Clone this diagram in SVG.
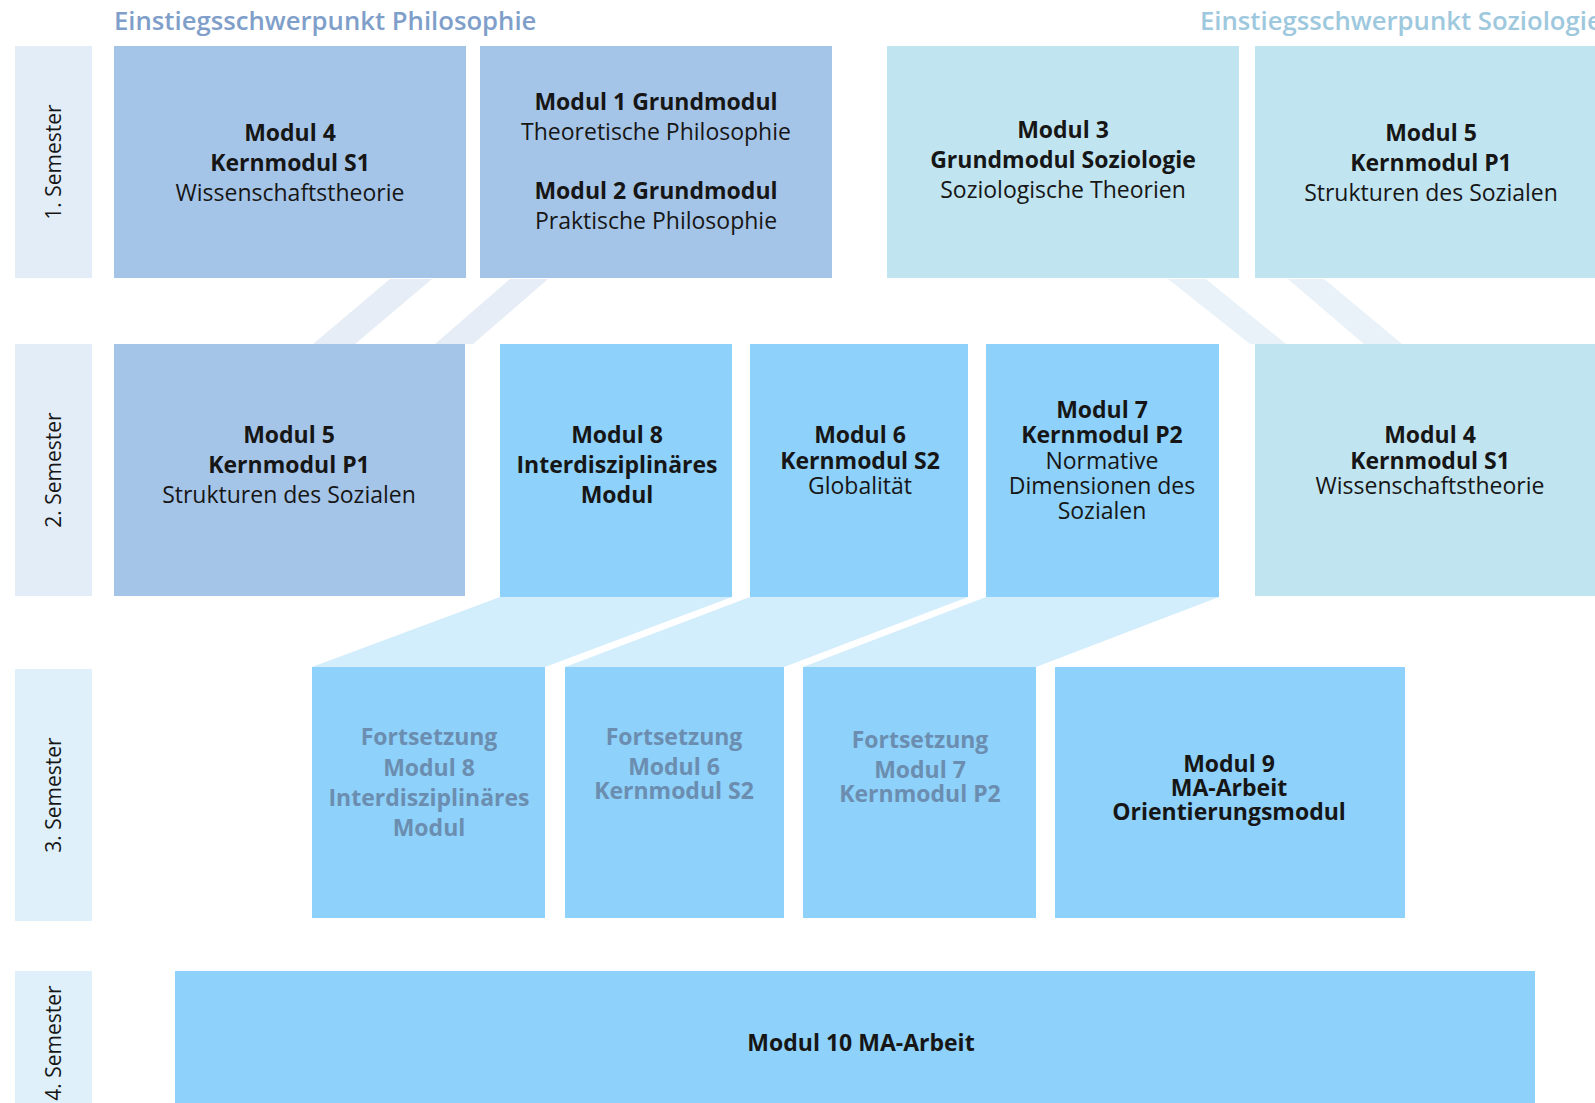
<svg xmlns="http://www.w3.org/2000/svg" width="1595" height="1103" viewBox="0 0 1595 1103">
<style>
text{font-family:"Open Sans","Noto Sans","Liberation Sans",sans-serif;text-anchor:middle;fill:#161616}
.b{font-weight:700;font-size:23px}
.r{font-weight:400;font-size:23px}
.f{font-weight:700;font-size:23px;fill:#6b8db0}
.sem{font-size:21px;font-weight:500;dominant-baseline:central}
.title{font-weight:600;font-size:25.7px;text-anchor:start}
.phil{fill:#a5c5e8}
.soz{fill:#c1e4f1}
.sky{fill:#8ed1fa}
.lab{fill:#e3edf8}
.lab2{fill:#dff0fb}
.band{fill:#e6edf6}
.band2{fill:#e8f2f8}
.par{fill:#d2edfc}
</style>
<rect width="1595" height="1103" fill="#ffffff"/>

<text class="title" x="114" y="30" style="fill:#7f9fca">Einstiegsschwerpunkt Philosophie</text>
<text class="title" x="1200" y="30" style="fill:#9dc8dd">Einstiegsschwerpunkt Soziologie</text>

<g id="connectors">
  <polygon class="band" points="390,279 432,279 355,344 313,344"/>
  <polygon class="band" points="510,279 548,279 473,344 435,344"/>
  <polygon class="band2" points="1168,279 1206,279 1286,344 1250,344"/>
  <polygon class="band2" points="1288,279 1324,279 1402,344 1364,344"/>
  <polygon class="par" points="500,597 732,597 545,667 312,667"/>
  <polygon class="par" points="750,597 968,597 784,667 565,667"/>
  <polygon class="par" points="986,597 1219,597 1036,667 803,667"/>
</g>

<g id="sem1"><rect class="lab" x="15" y="46" width="77" height="232"/><text class="sem" transform="translate(53,162) rotate(-90)">1. Semester</text></g>
<g id="sem2"><rect class="lab" x="15" y="344" width="77" height="252"/><text class="sem" transform="translate(53,470) rotate(-90)">2. Semester</text></g>
<g id="sem3"><rect class="lab2" x="15" y="669" width="77" height="252"/><text class="sem" transform="translate(53,795) rotate(-90)">3. Semester</text></g>
<g id="sem4"><rect class="lab2" x="15" y="971" width="77" height="150"/><text class="sem" transform="translate(53,1043) rotate(-90)">4. Semester</text></g>

<g id="s1-modul4">
  <rect class="phil" x="114" y="46" width="352" height="232"/>
  <text class="b" x="290" y="141">Modul 4</text>
  <text class="b" x="290" y="171">Kernmodul S1</text>
  <text class="r" x="290" y="201">Wissenschaftstheorie</text>
</g>
<g id="s1-modul12">
  <rect class="phil" x="480" y="46" width="352" height="232"/>
  <text class="b" x="656" y="110">Modul 1 Grundmodul</text>
  <text class="r" x="656" y="140">Theoretische Philosophie</text>
  <text class="b" x="656" y="199">Modul 2 Grundmodul</text>
  <text class="r" x="656" y="229">Praktische Philosophie</text>
</g>
<g id="s1-modul3">
  <rect class="soz" x="887" y="46" width="352" height="232"/>
  <text class="b" x="1063" y="138">Modul 3</text>
  <text class="b" x="1063" y="168">Grundmodul Soziologie</text>
  <text class="r" x="1063" y="198">Soziologische Theorien</text>
</g>
<g id="s1-modul5">
  <rect class="soz" x="1255" y="46" width="352" height="232"/>
  <text class="b" x="1431" y="141">Modul 5</text>
  <text class="b" x="1431" y="171">Kernmodul P1</text>
  <text class="r" x="1431" y="201">Strukturen des Sozialen</text>
</g>

<g id="s2-modul5">
  <rect class="phil" x="114" y="344" width="351" height="252"/>
  <text class="b" x="289" y="443">Modul 5</text>
  <text class="b" x="289" y="473">Kernmodul P1</text>
  <text class="r" x="289" y="503">Strukturen des Sozialen</text>
</g>
<g id="s2-modul8">
  <rect class="sky" x="500" y="344" width="232" height="253"/>
  <text class="b" x="617" y="443">Modul 8</text>
  <text class="b" x="617" y="473">Interdisziplinäres</text>
  <text class="b" x="617" y="503">Modul</text>
</g>
<g id="s2-modul6">
  <rect class="sky" x="750" y="344" width="218" height="253"/>
  <text class="b" x="860" y="443">Modul 6</text>
  <text class="b" x="860" y="469">Kernmodul S2</text>
  <text class="r" x="860" y="494">Globalität</text>
</g>
<g id="s2-modul7">
  <rect class="sky" x="986" y="344" width="233" height="253"/>
  <text class="b" x="1102" y="418">Modul 7</text>
  <text class="b" x="1102" y="443">Kernmodul P2</text>
  <text class="r" x="1102" y="469">Normative</text>
  <text class="r" x="1102" y="494">Dimensionen des</text>
  <text class="r" x="1102" y="519">Sozialen</text>
</g>
<g id="s2-modul4">
  <rect class="soz" x="1255" y="344" width="352" height="252"/>
  <text class="b" x="1430" y="443">Modul 4</text>
  <text class="b" x="1430" y="469">Kernmodul S1</text>
  <text class="r" x="1430" y="494">Wissenschaftstheorie</text>
</g>

<g id="s3-fort8">
  <rect class="sky" x="312" y="667" width="233" height="251"/>
  <text class="f" x="429" y="745">Fortsetzung</text>
  <text class="f" x="429" y="776">Modul 8</text>
  <text class="f" x="429" y="806">Interdisziplinäres</text>
  <text class="f" x="429" y="836">Modul</text>
</g>
<g id="s3-fort6">
  <rect class="sky" x="565" y="667" width="219" height="251"/>
  <text class="f" x="674" y="745">Fortsetzung</text>
  <text class="f" x="674" y="775">Modul 6</text>
  <text class="f" x="674" y="799">Kernmodul S2</text>
</g>
<g id="s3-fort7">
  <rect class="sky" x="803" y="667" width="233" height="251"/>
  <text class="f" x="920" y="748">Fortsetzung</text>
  <text class="f" x="920" y="778">Modul 7</text>
  <text class="f" x="920" y="802">Kernmodul P2</text>
</g>
<g id="s3-modul9">
  <rect class="sky" x="1055" y="667" width="350" height="251"/>
  <text class="b" x="1229" y="772">Modul 9</text>
  <text class="b" x="1229" y="796">MA-Arbeit</text>
  <text class="b" x="1229" y="820">Orientierungsmodul</text>
</g>

<g id="s4-modul10">
  <rect class="sky" x="175" y="971" width="1360" height="150"/>
  <text class="b" x="861" y="1051">Modul 10 MA-Arbeit</text>
</g>
</svg>
